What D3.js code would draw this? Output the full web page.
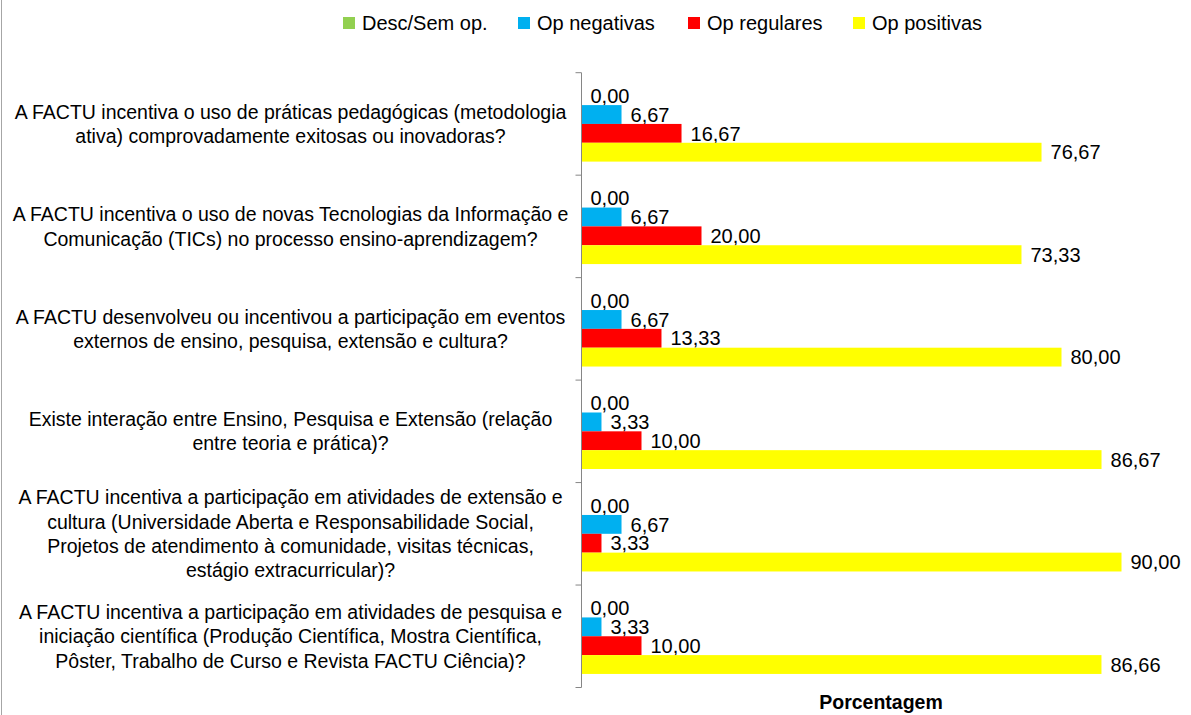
<!DOCTYPE html>
<html>
<head>
<meta charset="utf-8">
<script src="https://cdn.jsdelivr.net/npm/d3@7"></script>
<style>
  body { margin: 0; background: #fff; }
  text { font-family: "Liberation Sans", Arial, sans-serif; fill: #000; }
</style>
</head>
<body>
<svg id="chart" width="1191" height="715"></svg>
<script>
// Questions, one entry per line break
const categories = [
    ["A FACTU incentiva o uso de práticas pedagógicas (metodologia", "ativa) comprovadamente exitosas ou inovadoras?"],
    ["A FACTU incentiva o uso de novas Tecnologias da Informação e", "Comunicação (TICs) no processo ensino-aprendizagem?"],
    ["A FACTU desenvolveu ou incentivou a participação em eventos", "externos de ensino, pesquisa, extensão e cultura?"],
    ["Existe interação entre Ensino, Pesquisa e Extensão (relação", "entre teoria e prática)?"],
    ["A FACTU incentiva a participação em atividades de extensão e", "cultura (Universidade Aberta e Responsabilidade Social,", "Projetos de atendimento à comunidade, visitas técnicas,", "estágio extracurricular)?"],
    ["A FACTU incentiva a participação em atividades de pesquisa e", "iniciação científica (Produção Científica, Mostra Científica,", "Pôster, Trabalho de Curso e Revista FACTU Ciência)?"]
];

const seriesNames = ["Desc/Sem op.", "Op negativas", "Op regulares", "Op positivas"];
const seriesColors = ["#92D050", "#00B0F0", "#FF0000", "#FFFF00"];

const descSemOp   = [0, 0, 0, 0, 0, 0];
const opNegativas = [6.67, 6.67, 6.67, 3.33, 6.67, 3.33];
const opRegulares = [16.67, 20.00, 13.33, 10.00, 3.33, 10.00];
const opPositivas = [76.67, 73.33, 80.00, 86.67, 90.00, 86.66];

const values = [descSemOp, opNegativas, opRegulares, opPositivas];

const svg = d3.select("#chart");

// left border of the chart area
svg.append("line")
    .attr("x1", 1.5).attr("x2", 1.5).attr("y1", 0).attr("y2", 715)
    .attr("stroke", "#a6a6a6").attr("stroke-width", 1);

const x = d3.scaleLinear().domain([0, 100]).range([581.5, 1181.5]);

const y = d3.scaleBand()
    .domain(d3.range(categories.length))
    .range([72.7, 687.5])
    .paddingInner(0).paddingOuter(0);

const ySub = d3.scaleBand()
    .domain(d3.range(seriesNames.length))
    .range([0, y.bandwidth()])
    .paddingInner(0).paddingOuter(0.72);

const fmt = v => d3.format(".2f")(v).replace(".", ",");

// bars + labels
const groups = svg.selectAll("g.cat")
    .data(categories)
    .join("g")
    .attr("class", "cat")
    .attr("transform", (d, i) => `translate(0,${y(i)})`);

groups.each(function(d, i) {
    const g = d3.select(this);
    seriesNames.forEach((s, j) => {
        const v = values[j][i];
        g.append("rect")
            .attr("x", x(0))
            .attr("y", ySub(j))
            .attr("width", x(v) - x(0))
            .attr("height", ySub.bandwidth())
            .attr("fill", seriesColors[j]);
        g.append("text")
            .attr("x", x(v) + 9)
            .attr("y", ySub(j) + ySub.bandwidth() / 2)
            .attr("dy", "0.36em")
            .style("font-size", "20px")
            .text(fmt(v));
    });

    // question label, centered, multi-line
    const lh = 24.3;
    const t = g.append("text")
        .attr("text-anchor", "middle")
        .style("font-size", "19.5px");
    d.forEach((line, k) => {
        t.append("tspan")
            .attr("x", 290.5)
            .attr("y", y.bandwidth() / 2 + (k - (d.length - 1) / 2) * lh)
            .attr("dy", "0.36em")
            .text(line);
    });
});

// axis
const axis = d3.axisLeft(y).tickSize(6).tickFormat("").tickSizeOuter(0);
const ag = svg.append("g").attr("transform", `translate(${x(0)},0)`).call(axis);
ag.select(".domain").attr("stroke", "#868686");
ag.selectAll(".tick").remove();
// tick marks at band boundaries
const bounds = d3.range(categories.length + 1).map(i => i < categories.length ? y(i) : y(categories.length - 1) + y.bandwidth());
ag.selectAll("line.bt")
    .data(bounds)
    .join("line")
    .attr("class", "bt")
    .attr("x1", -6).attr("x2", 0)
    .attr("y1", d => d).attr("y2", d => d)
    .attr("stroke", "#868686");
ag.select(".domain").attr("d", `M0,${bounds[0]}V${bounds[bounds.length - 1]}`);

// axis title
svg.append("text")
    .attr("x", 881).attr("y", 709)
    .attr("text-anchor", "middle")
    .style("font-size", "19.5px").style("font-weight", "bold")
    .text("Porcentagem");

// legend
const legendX = [343, 518, 688, 853];
const legend = svg.selectAll("g.leg")
    .data(seriesNames)
    .join("g")
    .attr("class", "leg")
    .attr("transform", (d, i) => `translate(${legendX[i]},17)`);
legend.append("rect")
    .attr("width", 12).attr("height", 12)
    .attr("fill", (d, i) => seriesColors[i]);
legend.append("text")
    .attr("x", 19).attr("y", 6).attr("dy", "0.36em")
    .style("font-size", "20px")
    .text(d => d);
</script>
</body>
</html>
